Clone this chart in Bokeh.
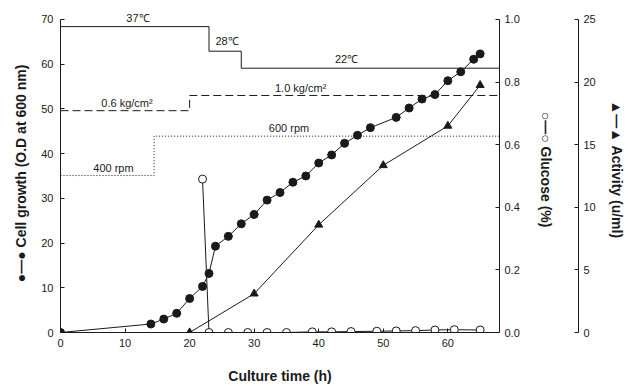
from bokeh.plotting import figure
from bokeh.models import Range1d, LinearAxis, FixedTicker, NumeralTickFormatter, Label
from bokeh.embed import file_html
from bokeh.resources import INLINE

# ---- data ----
time_cell = [0, 14, 16, 18, 20, 22, 23, 24, 26, 28, 30, 32, 34, 36, 38, 40, 42, 44, 46, 48,
             52, 54, 56, 58, 60, 62, 64, 65]
cell_growth = [0, 1.9, 3.0, 4.3, 7.6, 10.3, 13.2, 19.3, 21.5, 24.3, 26.4, 29.6, 31.3, 33.6,
               35.0, 37.9, 39.7, 42.3, 44.1, 45.8, 48.1, 50.2, 52.2, 53.2, 56.3, 58.3, 61.1, 62.3]
time_glucose = [22, 23, 26, 29, 32, 35, 39, 42, 45, 49, 52, 55, 58, 61, 65]
glucose = [0.49, 0, 0, 0, 0, 0, 0.002, 0.002, 0.003, 0.004, 0.005, 0.006, 0.008, 0.009, 0.008]
time_activity = [0, 20, 30, 40, 50, 60, 65]
activity = [0, 0, 3.1, 8.6, 13.35, 16.5, 19.75]

temp_time = [0, 23, 28, 68]
temp_level = [68.4, 62.9, 59.1, 59.1]
temp_labels = ["37℃", "28℃", "22℃"]
press_time = [0, 20, 68]
press_level = [49.6, 53.0, 53.0]
press_labels = ["0.6 kg/cm²", "1.0 kg/cm²"]
agit_time = [0, 14.5, 68]
agit_level = [35.1, 43.9, 43.9]
agit_labels = ["400 rpm", "600 rpm"]

x_ticks = [0, 10, 20, 30, 40, 50, 60]
cell_ticks = [0, 10, 20, 30, 40, 50, 60, 70]
glu_ticks = [0.0, 0.2, 0.4, 0.6, 0.8, 1.0]
act_ticks = [0, 5, 10, 15, 20, 25]

CELL_MAX, GLU_MAX, ACT_MAX = 70, 1.0, 25
HEADROOM = 72 / 70  # a little room above the axes for the "37℃" note

FONT = "Liberation Sans"
INK = "#1a1a1a"

p = figure(width=632, height=386, output_backend="svg", toolbar_location=None,
           x_range=Range1d(0, 68), y_range=Range1d(0, CELL_MAX * HEADROOM),
           min_border_top=10, min_border_bottom=53, min_border_left=60, min_border_right=133)
p.extra_y_ranges = {"glu": Range1d(0, GLU_MAX * HEADROOM), "act": Range1d(0, ACT_MAX * HEADROOM)}
p.outline_line_color = None
p.xgrid.grid_line_color = None
p.ygrid.grid_line_color = None
p.background_fill_color = "white"
p.border_fill_color = "white"


def style_axis(ax, label_size="14px"):
    ax.axis_line_color = INK
    ax.axis_line_width = 1
    ax.major_tick_line_color = INK
    ax.major_tick_in = 4
    ax.major_tick_out = 0
    ax.minor_tick_line_color = None
    ax.major_label_text_font = FONT
    ax.major_label_text_font_size = "11px"
    ax.major_label_text_color = INK
    ax.axis_label_text_font = FONT
    ax.axis_label_text_font_size = label_size
    ax.axis_label_text_font_style = "bold"
    ax.axis_label_text_color = INK


xa = p.xaxis[0]
style_axis(xa)
xa.ticker = FixedTicker(ticks=x_ticks)
xa.axis_label = "Culture time (h)"
xa.major_label_standoff = 6
xa.axis_label_standoff = 18

ya = p.yaxis[0]
style_axis(ya)
ya.ticker = FixedTicker(ticks=cell_ticks)
ya.bounds = (0, CELL_MAX)
ya.axis_label = "●—●  Cell growth (O.D at 600 nm)"
ya.major_label_standoff = 7
ya.axis_label_standoff = 9

glu_axis = LinearAxis(y_range_name="glu")
style_axis(glu_axis)
glu_axis.ticker = FixedTicker(ticks=glu_ticks)
glu_axis.bounds = (0, GLU_MAX)
glu_axis.formatter = NumeralTickFormatter(format="0.0")
glu_axis.axis_label = "○—○  Glucose (%)"
glu_axis.major_label_standoff = 5
glu_axis.axis_label_standoff = 15
p.add_layout(glu_axis, "right")

spacer = LinearAxis(y_range_name="glu", ticker=FixedTicker(ticks=[]))
spacer.axis_line_color = None
spacer.major_tick_line_color = None
spacer.minor_tick_line_color = None
spacer.major_tick_in = 0
spacer.major_tick_out = 0
spacer.major_label_standoff = 0
spacer.axis_label = " "
spacer.axis_label_standoff = 0
spacer.axis_label_text_font_size = "17px"
p.add_layout(spacer, "right")

act_axis = LinearAxis(y_range_name="act")
style_axis(act_axis)
act_axis.ticker = FixedTicker(ticks=act_ticks)
act_axis.bounds = (0, ACT_MAX)
act_axis.axis_label = "▲—▲  Activity (u/ml)"
act_axis.major_label_standoff = 5
act_axis.axis_label_standoff = 10
p.add_layout(act_axis, "right")

# ---- condition step lines ----
p.step(temp_time, temp_level, mode="after", line_color=INK, line_width=1)
p.step(press_time, press_level, mode="after", line_color=INK, line_width=1, line_dash="8 4")
p.step(agit_time, agit_level, mode="after", line_color=INK, line_width=1, line_dash="1 2")


def note(text, x, y):
    p.add_layout(Label(x=x, y=y, text=text, text_font=FONT, text_font_size="11px",
                       text_color=INK, text_align="center", text_baseline="middle"))


note(temp_labels[0], 12.0, 70.4)
note(temp_labels[1], 25.8, 65.2)
note(temp_labels[2], 44.3, 61.1)
note(press_labels[0], 10.3, 51.3)
note(press_labels[1], 37.2, 54.6)
note(agit_labels[0], 8.2, 36.8)
note(agit_labels[1], 35.4, 45.7)

# ---- data series ----
p.line(time_activity, activity, y_range_name="act", line_color=INK, line_width=1)
p.line(time_glucose, glucose, y_range_name="glu", line_color=INK, line_width=1)
p.line(time_cell, cell_growth, line_color=INK, line_width=1)

p.scatter(time_activity, activity, y_range_name="act", marker="triangle", size=8,
          fill_color=INK, line_color=INK)
p.scatter(time_cell, cell_growth, marker="circle", size=8, fill_color=INK, line_color=INK)
p.scatter(time_glucose, glucose, y_range_name="glu", marker="circle", size=8,
          fill_color="white", line_color=INK, line_width=1)

open("out.html", "w").write(file_html(p, INLINE))
